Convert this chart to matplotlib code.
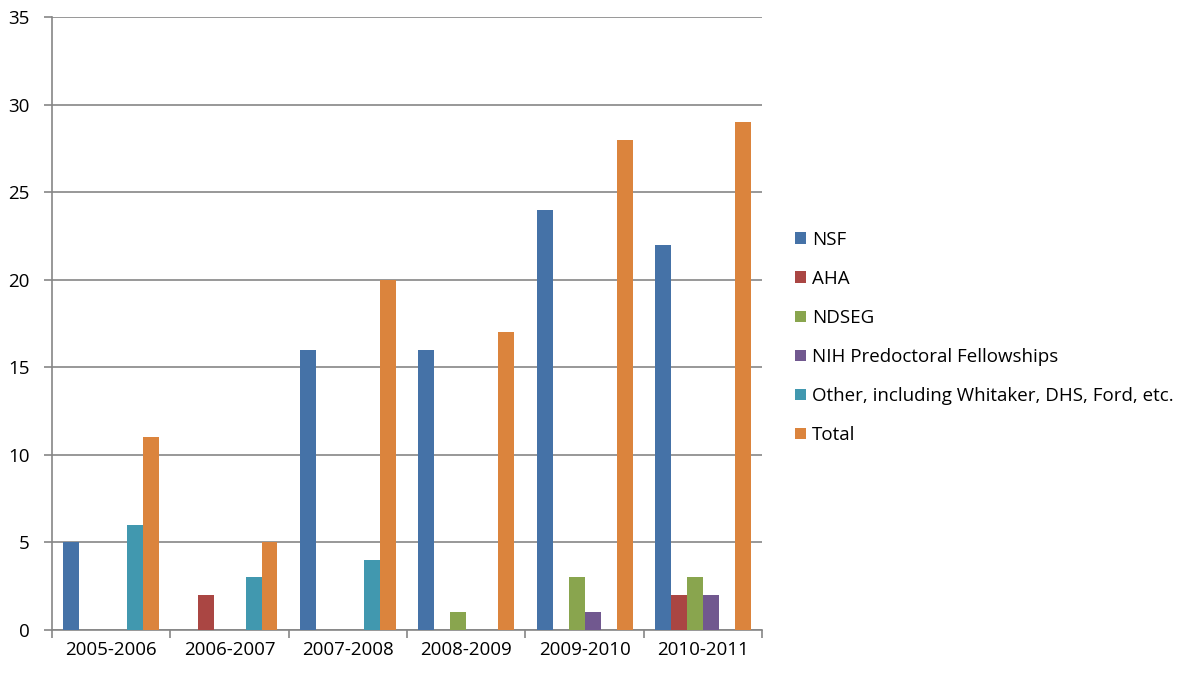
import numpy as np
import matplotlib
matplotlib.use("Agg")
import matplotlib.pyplot as plt

plt.rcParams['font.family'] = ['Open Sans', 'DejaVu Sans']

years = ['2005-2006', '2006-2007', '2007-2008', '2008-2009', '2009-2010', '2010-2011']
nsf = [5, 0, 16, 16, 24, 22]
aha = [0, 2, 0, 0, 0, 2]
ndseg = [0, 0, 0, 1, 3, 3]
nih = [0, 0, 0, 0, 1, 2]
other = [6, 3, 4, 0, 0, 0]
total = [11, 5, 20, 17, 28, 29]

series = [nsf, aha, ndseg, nih, other, total]
names = ['NSF', 'AHA', 'NDSEG', 'NIH Predoctoral Fellowships',
         'Other, including Whitaker, DHS, Ford, etc.', 'Total']
colors = ['#4572A7', '#AA4643', '#89A54E', '#71588F', '#4198AF', '#DB843D']

fig = plt.figure(figsize=(11.82, 6.73), dpi=100)
ax = fig.add_axes([0.044, 0.0639, 0.6008, 0.9108])

x = np.arange(len(years))
w = 0.135
handles = []
for i, (vals, c) in enumerate(zip(series, colors)):
    b = ax.bar(x - 2.5 * w + i * w, vals, w, color=c, zorder=3)
    handles.append(b)

ax.set_xlim(-0.5, len(years) - 0.5)
ax.set_ylim(0, 35)
ax.set_yticks(range(0, 36, 5))
ax.yaxis.grid(True, color='#868686', linewidth=1.2, zorder=0)

# category ticks sit between the groups
ax.set_xticks(x)
ax.set_xticklabels(years)
ax.set_xticks(np.arange(-0.5, len(years)), minor=True)
ax.tick_params(axis='x', which='major', length=0, pad=8, labelsize=13.5)
ax.tick_params(axis='x', which='minor', length=6, width=1.2, color='#868686')
ax.tick_params(axis='y', length=6, width=1.2, color='#868686', pad=10, labelsize=13.5)

for s in ['top', 'right']:
    ax.spines[s].set_visible(False)
for s in ['left', 'bottom']:
    ax.spines[s].set_color('#868686')
    ax.spines[s].set_linewidth(1.2)

fig.legend(handles, names, loc='center left', bbox_to_anchor=(0.665, 0.4985),
           frameon=False, fontsize=13.5, handlelength=0.55, handleheight=0.55,
           handletextpad=0.35, labelspacing=1.13, borderpad=0)

fig.savefig('out.png', dpi=100)
